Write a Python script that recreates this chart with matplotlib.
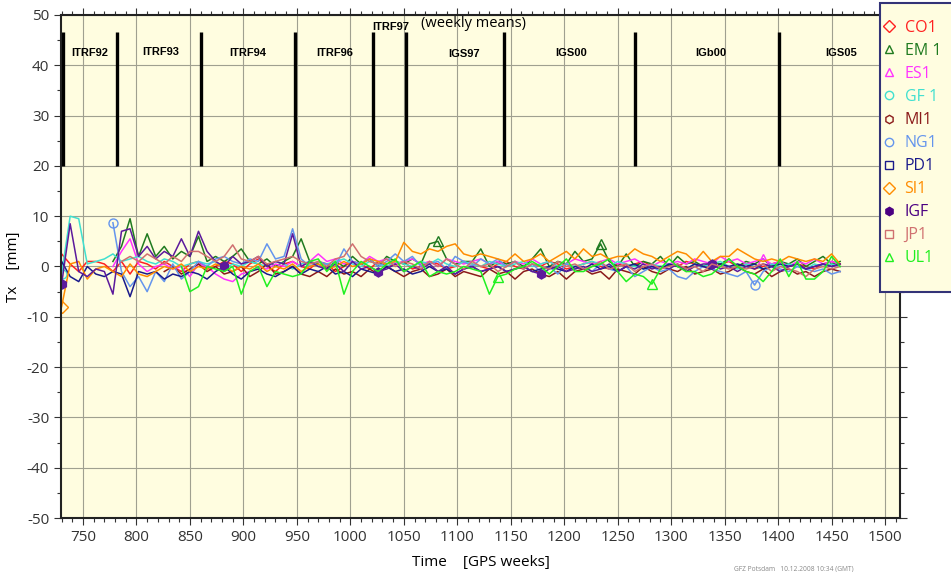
import numpy as np
import matplotlib
matplotlib.use('Agg')
import matplotlib.pyplot as plt
from matplotlib.lines import Line2D
from matplotlib.patches import Rectangle
from matplotlib.ticker import MultipleLocator

nan = np.nan

# GPS weeks, sampled every 8 weeks
weeks = np.arange(730, 1459, 8)

co1 = [2.5, 0.5, -1.0, 1.0, 1.0, 0.5, -1.0, 1.0, -1.5, 1.0,
       0.5, -0.5, 1.0, 0.0, -1.0, 0.5, 1.0, -0.5, 0.0, 1.0,
       0.5, -1.0, 0.5, 1.5, 0.0, -1.0, 0.5, 1.0, 0.0, -0.5,
       1.0, 0.5, -1.0, 0.0, 1.0, 0.5, -0.5, 1.0, 0.0, 0.5,
       1.0, -0.5, 0.0, 1.0, 0.5, -0.5, 0.0, 1.0, 0.5, 0.0,
       -0.5, 0.5, 1.0, 0.0, -0.5, 0.5, 0.0, 1.0, 0.5, -0.5,
       0.0, 0.5, 1.0, 0.0, -0.5, 0.5, 0.0, 0.5, 1.0, 0.0,
       -0.5, 0.5, 0.0, 1.0, 0.5, 0.0, -0.5, 0.5, 1.0, 0.0,
       0.5, -0.5, 0.0, 0.5, 1.0, 0.0, 0.5, 0.0, -0.5, 0.5,
       1.0, 0.5]

em1 = [nan, nan, nan, nan, nan, nan, 1.0, 4.0, 9.5, 2.0,
       6.5, 2.0, 4.0, 1.5, 3.0, 2.0, 6.0, 1.0, 2.0, 1.0,
       2.0, 3.5, 1.0, 0.5, 1.5, 0.0, 1.0, 2.0, 5.5, 1.0,
       0.5, -0.5, 1.0, 0.0, 2.0, 0.5, 1.5, 0.0, 2.0, 1.0,
       0.5, 1.5, 0.5, 4.5, 5.0, 1.5, 0.5, 1.0, 1.0, 3.5,
       0.0, 1.0, 0.5, 1.0, 0.0, 1.5, 3.5, 0.0, 1.0, 0.5,
       3.0, 1.0, 1.5, 4.5, 1.0, 0.0, 2.5, 0.0, 1.0, 0.5,
       2.0, 0.0, 2.0, 0.5, 1.0, 0.0, 1.0, 0.5, 1.5, 0.0,
       1.0, 0.5, 1.5, 0.0, 1.0, 0.5, 1.5, 0.0, 1.0, 2.0,
       0.5, 1.0]

es1 = [nan, nan, nan, nan, nan, nan, 0.0, 3.0, 5.5, 0.5,
       -1.0, 0.0, 0.5, -0.5, 0.0, -2.0, 0.5, 0.0, -1.5, -2.5,
       -3.0, -1.5, -1.0, 0.0, -0.5, 0.5, 0.0, 1.0, 0.0, 1.0,
       2.5, 1.0, 1.5, 0.5, 1.0, 0.5, 2.0, 1.0, 1.5, 0.5,
       1.0, 1.5, 0.5, 1.0, 0.0, 1.5, 1.0, 0.5, 1.0, 1.5,
       0.5, 1.0, 0.0, 1.0, 0.5, 1.5, 0.5, 1.0, 0.0, 0.5,
       1.5, 1.0, 0.5, 1.0, 1.5, 0.5, 1.0, 1.5, 0.5, 0.0,
       1.0, 0.5, 1.0, 0.5, 1.5, 1.0, 0.5, 2.0, 1.0, 1.5,
       0.5, 1.0, 1.5, 0.5, 1.0, 0.0, 1.0, 0.5, 1.5, 0.5,
       1.0, 0.5]

gf1 = [-1.5, 10.0, 9.5, 0.5, 1.0, 1.5, 2.5, 1.0, 1.5, 2.0,
       1.0, 0.5, 1.5, 1.0, 0.0, 0.5, 1.0, 0.5, 1.0, -0.5,
       0.5, 0.0, 1.0, 0.5, 0.0, 1.0, 0.5, -0.5, 0.5, 1.0,
       0.0, 0.5, 1.0, 1.5, 0.5, 0.0, 1.0, 0.5, 0.0, 1.0,
       0.5, 0.0, 1.0, 0.5, 1.5, 0.5, 0.0, 1.0, 0.5, 0.0,
       1.0, 0.5, 0.0, 0.5, 1.0, 0.0, 0.5, 1.0, 0.0, 0.5,
       0.0, 0.5, 1.0, 0.5, 0.0, 1.0, 0.5, 0.0, -0.5, 0.5,
       0.0, 0.5, 0.0, -0.5, 0.5, 0.0, 0.5, 1.0, 0.0, -0.5,
       0.5, 0.0, -0.5, 0.5, 0.0, 0.5, 0.0, -0.5, 0.5, 0.0,
       0.5, 0.0]

mi1 = [nan, nan, nan, nan, nan, nan, nan, nan, nan, nan,
       nan, nan, -1.0, 0.0, -1.5, -0.5, 0.5, -1.0, 0.0, -1.5,
       -1.0, 0.0, -2.0, -1.0, 0.5, -1.5, -1.0, 0.0, -1.5, -2.0,
       -1.0, -2.0, -0.5, -1.5, -1.0, -2.0, -0.5, -1.5, 0.0, -1.0,
       -2.0, -1.0, -0.5, -2.0, -1.5, -0.5, -2.0, -1.0, -1.5, -2.0,
       -0.5, -1.5, -1.0, -2.5, -1.0, -0.5, -1.5, -2.0, -1.0, -2.5,
       -1.0, -0.5, -1.5, -1.0, -2.5, -0.5, -1.0, -1.5, 0.0, -1.0,
       -1.5, -0.5, -1.0, 0.0, -1.5, -1.0, -0.5, -1.5, -1.0, 0.0,
       -1.0, -1.5, -0.5, -2.0, -1.0, -0.5, -1.5, -1.0, -2.0, -1.0,
       -0.5, -1.0]

ng1 = [nan, nan, nan, nan, nan, nan, 8.7, -1.0, -4.0, -2.0,
       -5.0, -1.0, -3.0, 0.5, -2.5, -1.0, 1.0, 0.0, 1.5, 2.0,
       1.0, 0.5, 1.5, 1.0, 4.5, 1.5, 2.0, 7.5, 1.5, 0.0,
       1.0, 0.5, 0.0, 3.5, 1.0, 0.5, 1.5, 0.0, 1.0, 2.5,
       1.0, 2.0, 0.0, 0.5, 1.0, -0.5, 2.0, 1.0, 0.0, 1.5,
       0.5, 1.5, 0.0, 1.0, -0.5, 0.5, -1.0, 0.0, -1.5, 0.5,
       -0.5, 0.0, -1.0, 0.5, -0.5, -1.0, 0.0, -2.0, -1.0, 0.0,
       -1.0, -0.5, -2.0, -2.5, -1.0, 0.0, -0.5, -1.0, -1.5, -2.0,
       -1.0, -3.7, -1.0, 0.0, -0.5, -1.0, 0.0, -0.5, -1.0, -0.5,
       -1.5, -1.0]

pd1 = [1.0, -2.0, -3.0, 0.0, -1.5, -2.0, -1.0, -1.5, -6.0, -1.0,
       -1.5, -1.0, -2.5, -1.5, -2.0, -1.0, -1.5, -2.5, -1.0, 0.0,
       -1.5, -2.5, -1.0, -0.5, -1.5, -2.0, -1.0, 0.0, -1.5, -0.5,
       -1.0, 0.0, -1.5, -1.0, -2.0, -0.5, -1.0, -1.5, 0.0, -1.0,
       -0.5, -1.5, -1.0, 0.0, -1.0, -0.5, -1.5, -0.5, 0.0, -1.0,
       -0.5, 0.0, -1.0, -0.5, 0.0, -1.0, -0.5, 0.0, -0.5, -1.0,
       0.0, -0.5, 0.5, -0.5, 0.0, -1.0, 0.0, 0.5, -0.5, 0.0,
       -0.5, 0.5, 0.0, -0.5, 0.5, 0.0, -0.5, 0.5, 0.0, 0.5,
       0.0, 0.5, -0.5, 0.0, 0.5, 0.0, 0.5, -0.5, 0.0, 0.5,
       0.0, 0.5]

si1 = [-8.0, 0.5, 1.0, -2.5, -0.5, 0.0, -1.0, -2.0, 0.5, -1.5,
       -2.0, -1.0, 0.0, -0.5, 0.5, -1.0, 0.0, -0.5, 0.5, 0.0,
       -1.0, 0.0, -0.5, 0.5, -1.0, 0.0, -0.5, 0.5, -1.0, 0.0,
       0.5, -0.5, 0.0, 1.0, 0.0, 0.5, 1.5, 1.0, 0.5, 1.0,
       4.8, 3.0, 2.5, 3.5, 3.0, 4.0, 4.5, 2.5, 2.0, 2.5,
       2.0, 1.5, 1.0, 2.5, 1.0, 1.5, 2.5, 1.0, 2.0, 3.0,
       1.5, 3.5, 2.0, 2.5, 1.5, 2.0, 2.0, 3.5, 2.5, 2.0,
       1.0, 2.0, 3.0, 2.5, 1.0, 3.0, 1.0, 2.0, 2.0, 3.5,
       2.5, 1.5, 1.0, 1.5, 1.0, 2.0, 1.5, 1.0, 1.5, 1.0,
       2.5, 0.5]

igf = [-3.5, 8.5, -1.0, -2.0, -0.5, -1.0, -5.5, 7.0, 7.5, 2.0,
       4.0, 1.5, 3.0, 2.0, 5.5, 2.0, 7.0, 3.0, 1.0, 0.0,
       2.0, 0.5, 1.0, 2.0, 0.0, 1.0, 0.5, 6.5, 0.0, 1.0,
       0.0, -0.5, 0.5, -1.0, 1.0, -0.5, 0.0, -1.0, -0.5, 0.5,
       -1.0, 0.0, -0.5, 0.5, -1.0, 0.0, -1.5, -0.5, 0.0, -1.0,
       -0.5, 0.0, -1.0, -0.5, 0.0, -1.0, -1.5, -0.5, 0.0, -1.0,
       -0.5, 0.0, -1.0, -0.5, 0.5, -1.0, 0.0, -0.5, 0.5, -0.5,
       0.0, -0.5, 0.5, -1.0, 0.0, 0.5, 0.5, -0.5, 0.0, -1.0,
       0.0, -0.5, 0.5, 0.0, -1.0, 0.0, 0.5, -0.5, 0.0, 0.5,
       0.0, 0.5]

jp1 = [nan, nan, nan, nan, nan, nan, nan, 1.0, 2.0, 1.0,
       2.5, 1.5, 0.5, 2.0, 1.0, 3.0, 3.0, 2.0, 1.0, 2.0,
       4.3, 1.5, 1.0, 2.0, 0.5, 1.0, 1.5, 2.0, 1.0, 0.5,
       1.0, 0.0, 1.5, 2.0, 4.5, 2.0, 1.0, 0.5, 1.5, 0.0,
       1.0, 0.5, -0.5, 1.0, 0.0, 1.5, 0.5, -0.5, 1.0, 0.0,
       0.5, -1.0, 0.0, 1.0, -0.5, 0.5, 0.0, -0.5, 1.0, 0.0,
       0.5, -0.5, 0.0, 1.0, -0.5, 0.0, 0.5, -1.0, 0.0, 0.5,
       -0.5, 0.0, 0.5, -0.5, 0.0, -1.0, 0.5, 0.0, -0.5, 0.0,
       -0.5, 0.0, 0.5, -1.0, 0.0, -0.5, -1.0, -2.0, -0.5, 0.0,
       -0.5, 0.0]

ul1 = [nan, nan, nan, nan, nan, nan, nan, nan, nan, nan,
       nan, nan, nan, nan, 0.0, -5.0, -4.0, 0.0, -0.5, -1.0,
       0.0, -5.5, -1.0, 0.0, -4.0, -1.0, -1.5, -2.0, -1.5, 1.0,
       1.5, -1.0, 1.0, -5.5, -1.0, 1.0, 0.0, -1.0, 0.5, 1.5,
       -1.0, 0.0, 1.0, -2.0, -1.0, -1.5, -1.0, 0.0, -0.5, -1.0,
       -5.5, -2.0, -1.5, -0.5, 0.0, 1.0, 0.0, -1.5, 0.0, 1.5,
       -1.0, -1.0, 0.0, 0.5, 1.5, -1.0, -3.0, -1.5, -2.0, -3.5,
       -0.5, 1.5, 0.0, -1.0, -1.0, -2.0, -1.5, 0.0, 1.5, 0.0,
       -1.0, -1.5, -3.0, -1.0, 1.5, -2.0, 1.0, -2.5, -2.5, -1.0,
       2.0, 0.0]

# name, values, line colour, legend colour, marker, filled, marker indices
series = [
    ('CO1', co1, '#ff2020', '#ff2020', 'D', False, []),
    ('EM 1', em1, '#1f7a1f', '#1f7a1f', '^', False, [44, 63]),
    ('ES1', es1, '#ff33ff', '#ff33ff', '^', False, [82]),
    ('GF 1', gf1, '#40e0d0', '#40e0d0', 'o', False, [0]),
    ('MI1', mi1, '#8b1a1a', '#8b1a1a', 'h', False, []),
    ('NG1', ng1, '#6495ed', '#6495ed', 'o', False, [6, 81]),
    ('PD1', pd1, '#1a1a8b', '#1a1a8b', 's', False, []),
    ('SI1', si1, '#ff8c00', '#ff8c00', 'D', False, [0]),
    ('IGF', igf, '#5c1a9c', '#4b0082', 'h', True, [0, 19, 37, 56, 76]),
    ('JP1', jp1, '#d07070', '#d07070', 's', False, []),
    ('UL1', ul1, '#20f020', '#20f020', '^', False, [51, 69]),
]

# reference frame changes
epoch_weeks = [731.6, 782.2, 860.3, 947.9, 1021.5, 1051.7, 1144, 1265.8, 1401]
frame_names = ['ITRF92', 'ITRF93', 'ITRF94', 'ITRF96', 'ITRF97',
               'IGS97', 'IGS00', 'IGb00', 'IGS05']
frame_x = [756.5, 822.2, 903.7, 985.3, 1037.7, 1106, 1206.4, 1336.7, 1459]
frame_y = [42.4, 42.6, 42.4, 42.4, 47.6, 42.2, 42.4, 42.4, 42.4]


def main():
    plt.rcParams['font.family'] = ['Open Sans', 'DejaVu Sans']
    plt.rcParams['axes.unicode_minus'] = False

    fig = plt.figure(figsize=(9.51, 5.72), dpi=100)
    ax = fig.add_axes([0.0641, 0.0944, 0.8823, 0.8794])
    ax.set_facecolor('#fffde0')

    for name, vals, col, lcol, mk, filled, marks in series:
        ax.plot(weeks, vals, color=col, linewidth=1.1, marker=mk,
                markevery=marks, markersize=6.5,
                markerfacecolor=col if filled else 'none',
                markeredgecolor=col, markeredgewidth=1.0)

    ax.vlines(epoch_weeks, 20, 46.6, color='black', linewidth=2.4)
    for name, x, y in zip(frame_names, frame_x, frame_y):
        ax.text(x, y, name, ha='center', va='center', fontsize=8,
                fontweight='bold', family='Liberation Sans')
    ax.text(1115.6, 48.4, '(weekly means)', ha='center', va='center',
            fontsize=10.5)

    ax.set_xlim(729.4, 1514)
    ax.set_ylim(-50, 50)
    ax.xaxis.set_major_locator(MultipleLocator(50))
    ax.xaxis.set_minor_locator(MultipleLocator(10))
    ax.yaxis.set_major_locator(MultipleLocator(10))
    ax.yaxis.set_minor_locator(MultipleLocator(5))
    ax.tick_params(which='both', direction='out', top=True, right=True,
                   labelsize=11, width=0.8, colors='#333333')
    ax.tick_params(which='major', length=5)
    ax.tick_params(which='minor', length=3)
    ax.grid(True, which='major', color='#a0a090', linewidth=0.8)
    for s in ax.spines.values():
        s.set_linewidth(1.5)
        s.set_color('#222222')

    ax.set_xlabel('Time    [GPS weeks]', fontsize=11, labelpad=7)
    ax.set_ylabel('Tx    [mm]', fontsize=11, labelpad=4)

    # legend box, partly cut off by the right edge of the figure
    box = Rectangle((880 / 951, 1 - 292 / 572), 0.2, 289 / 572,
                    transform=fig.transFigure, facecolor='#fffde0',
                    edgecolor='#333377', linewidth=1.5, zorder=5)
    fig.patches.append(box)

    handles = []
    for name, vals, col, lcol, mk, filled, marks in series:
        handles.append(Line2D([], [], linestyle='none', marker=mk,
                              markersize=6,
                              markerfacecolor=lcol if filled else 'none',
                              markeredgecolor=lcol, markeredgewidth=1.0))
    leg = fig.legend(handles, [s[0] for s in series], loc='upper left',
                     bbox_to_anchor=(883 / 951, 1 - 20 / 572), fontsize=11.5,
                     frameon=False, labelspacing=0.44,
                     handlelength=0.8, handletextpad=0.55,
                     borderpad=0, borderaxespad=0)
    leg.set_zorder(6)
    for txt, s in zip(leg.get_texts(), series):
        txt.set_color(s[3])

    fig.text(0.772, 0.003, 'GFZ Potsdam   10.12.2008 10:34 (GMT)',
             fontsize=4.8, color='#888888')

    fig.savefig('out.png', dpi=100)


if __name__ == "__main__":
    main()
